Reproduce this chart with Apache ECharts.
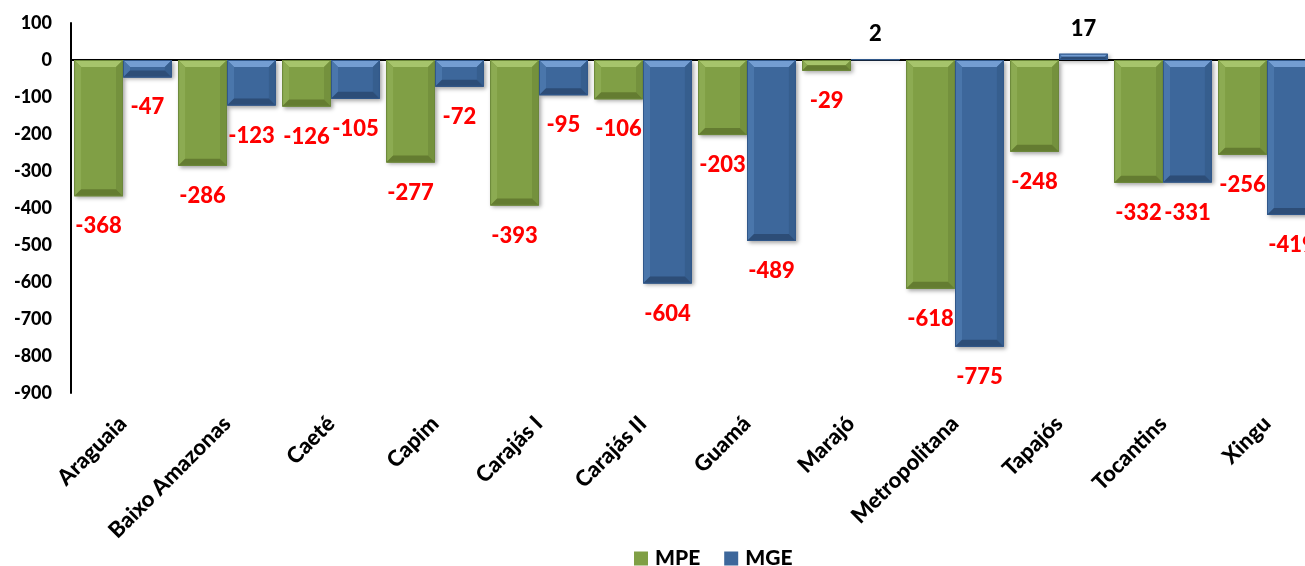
<!DOCTYPE html>
<html>
<head>
<meta charset="utf-8">
<script src="https://cdn.jsdelivr.net/npm/echarts@6/dist/echarts.min.js"></script>
<style>
html,body{margin:0;padding:0;background:#fff;}
#chart{width:1305px;height:566px;}
</style>
</head>
<body>
<div id="chart"></div>
<script>
const categories = ['Araguaia','Baixo Amazonas','Caeté','Capim','Carajás I','Carajás II','Guamá','Marajó','Metropolitana','Tapajós','Tocantins','Xingu'];
const mpeValues = [-368,-286,-126,-277,-393,-106,-203,-29,-618,-248,-332,-256];
const mgeValues = [-47,-123,-105,-72,-95,-604,-489,2,-775,17,-331,-419];
const yTicks = {min:-900, max:100, interval:100};

const FONT = 'Lato';
const BAR_FRAC = 0.47; // (1 - barCategoryGap) / 2

const palettes = [
  {body:'#809f45', top:'#a6c46b', left:'#8cab52', right:'#74913d', bottom:'#647c31', border:'#6b873a'},
  {body:'#3d679b', top:'#739dd2', left:'#4a76ab', right:'#365e8e', bottom:'#2d4d77', border:'#30578a'}
];

function items(vals) {
  return vals.map(v => ({
    value: v,
    label: {
      position: v < 0 ? 'bottom' : 'top',
      color: v < 0 ? '#ff0000' : '#000000',
      distance: v < 0 ? 19 : 14
    }
  }));
}

function bevel(sIdx) {
  const pal = palettes[sIdx];
  return function (params, api) {
    const cat = api.value(0), v = api.value(1);
    const p0 = api.coord([cat, 0]);
    const p1 = api.coord([cat, v]);
    const band = api.size([1, 0])[0];
    const w = band * BAR_FRAC;
    const x0 = p0[0] + (sIdx === 0 ? -w : 0);
    const x1 = x0 + w;
    const y0 = Math.min(p0[1], p1[1]);
    const y1 = Math.max(p0[1], p1[1]);
    const h = y1 - y0;
    const b = Math.min(7, h / 2);
    const poly = (pts, fill) => ({type:'polygon', shape:{points:pts}, style:{fill:fill}, silent:true});
    return {
      type:'group',
      children:[
        poly([[x0,y0],[x1,y0],[x1-b,y0+b],[x0+b,y0+b]], pal.top),
        poly([[x0,y0],[x0+b,y0+b],[x0+b,y1-b],[x0,y1]], pal.left),
        poly([[x1,y0],[x1,y1],[x1-b,y1-b],[x1-b,y0+b]], pal.right),
        poly([[x0,y1],[x0+b,y1-b],[x1-b,y1-b],[x1,y1]], pal.bottom),
        {type:'rect', shape:{x:x0+0.5,y:y0+0.5,width:Math.max(0,w-1),height:Math.max(0,h-1)},
          style:{fill:null, stroke:pal.border, lineWidth:1}, silent:true}
      ]
    };
  };
}

const chart = echarts.init(document.getElementById('chart'), null, {renderer:'canvas'});
chart.setOption({
  animation:false,
  backgroundColor:'#ffffff',
  textStyle:{fontFamily:FONT},
  grid:{left:71, top:23, height:370, width:1248, containLabel:false, outerBoundsMode:'none'},
  legend:{
    left:634, top:548, padding:0,
    itemWidth:14, itemHeight:14, itemGap:24,
    icon:'rect',
    textStyle:{fontFamily:FONT, fontWeight:900, fontSize:21, color:'#000', padding:[0,0,0,2]},
    data:['MPE','MGE']
  },
  xAxis:[
    {
      type:'category', data:categories,
      axisLine:{show:true, onZero:true, lineStyle:{color:'#000', width:2}},
      axisTick:{show:false}, axisLabel:{show:false}, splitLine:{show:false}
    },
    {
      type:'category', data:categories, position:'bottom',
      axisLine:{show:false, onZero:false}, axisTick:{show:false}, splitLine:{show:false},
      axisLabel:{show:true, rotate:45, margin:27, interval:0,
        fontFamily:FONT, fontWeight:900, fontSize:22, color:'#000'}
    }
  ],
  yAxis:{
    type:'value', min:yTicks.min, max:yTicks.max, interval:yTicks.interval,
    axisLine:{show:true, lineStyle:{color:'#000', width:2}},
    axisTick:{show:false}, splitLine:{show:false},
    axisLabel:{margin:19, fontFamily:FONT, fontWeight:900, fontSize:18, color:'#000'}
  },
  series:[
    {
      name:'MPE', type:'bar', xAxisIndex:0, data:items(mpeValues),
      barGap:'0%', barCategoryGap:'6%', z:2,
      itemStyle:{color:palettes[0].body,
        shadowColor:'rgba(0,0,0,0.35)', shadowBlur:4, shadowOffsetX:2, shadowOffsetY:2},
      label:{show:true, fontFamily:FONT, fontWeight:900, fontSize:22}
    },
    {
      name:'MGE', type:'bar', xAxisIndex:0, data:items(mgeValues),
      barGap:'0%', barCategoryGap:'6%', z:2,
      itemStyle:{color:palettes[1].body,
        shadowColor:'rgba(0,0,0,0.35)', shadowBlur:4, shadowOffsetX:2, shadowOffsetY:2},
      label:{show:true, fontFamily:FONT, fontWeight:900, fontSize:22}
    },
    {
      type:'custom', xAxisIndex:0, z:3, silent:true,
      renderItem:bevel(0), encode:{x:0, y:1},
      data:mpeValues.map((v,i)=>[i,v])
    },
    {
      type:'custom', xAxisIndex:0, z:3, silent:true,
      renderItem:bevel(1), encode:{x:0, y:1},
      data:mgeValues.map((v,i)=>[i,v])
    }
  ]
});
</script>
</body>
</html>
